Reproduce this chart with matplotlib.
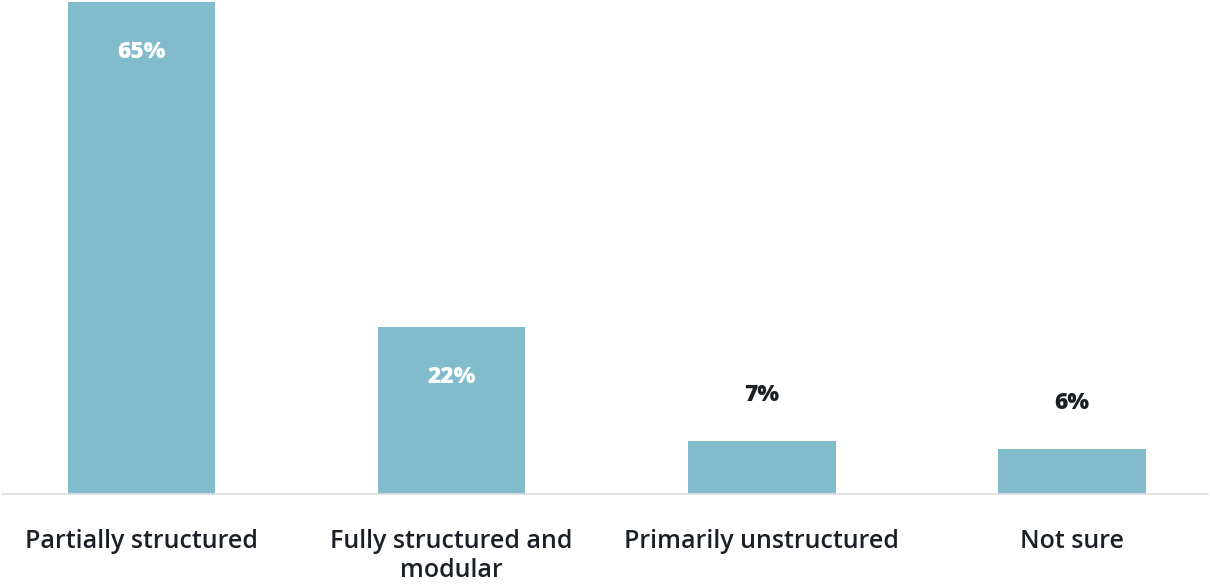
import numpy as np
import matplotlib.pyplot as plt

# data
categories = ['Partially structured', 'Fully structured and\nmodular',
              'Primarily unstructured', 'Not sure']
values = [65, 22, 7, 6]
labels = ['65%', '22%', '7%', '6%']

bar_color = '#82bbcc'
text_color = '#1b2026'

plt.rcParams['font.family'] = ['Open Sans', 'DejaVu Sans']

fig = plt.figure(figsize=(12.1, 5.84), dpi=100)
ax = fig.add_axes([2 / 1210, 90 / 584, 1206 / 1210, 494 / 584])

x = np.arange(len(categories))
ax.bar(x, values, width=0.477, color=bar_color, zorder=2)

ax.set_xlim(-0.45, 3.44)
ax.set_ylim(0, 65.26)

# value labels: inside tall bars, above short ones
for xi, v, lab in zip(x, values, labels):
    if v > 15:
        ax.annotate(lab, (xi, v), xytext=(0, -50), textcoords='offset pixels',
                    ha='center', va='center', color='white',
                    fontsize=16.5, fontweight='heavy')
    else:
        ax.annotate(lab, (xi, v), xytext=(0, 46), textcoords='offset pixels',
                    ha='center', va='center', color=text_color,
                    fontsize=16.5, fontweight='heavy')

ax.set_xticks(x)
ax.set_xticklabels(categories, fontsize=18, fontweight='semibold',
                   color=text_color, linespacing=1.2, va='top')
ax.tick_params(axis='x', length=0, pad=25)
ax.set_yticks([])

for s in ['top', 'left', 'right']:
    ax.spines[s].set_visible(False)
ax.spines['bottom'].set_color('#dddddd')
ax.spines['bottom'].set_linewidth(1.2)

fig.savefig('out.png', dpi=100)
